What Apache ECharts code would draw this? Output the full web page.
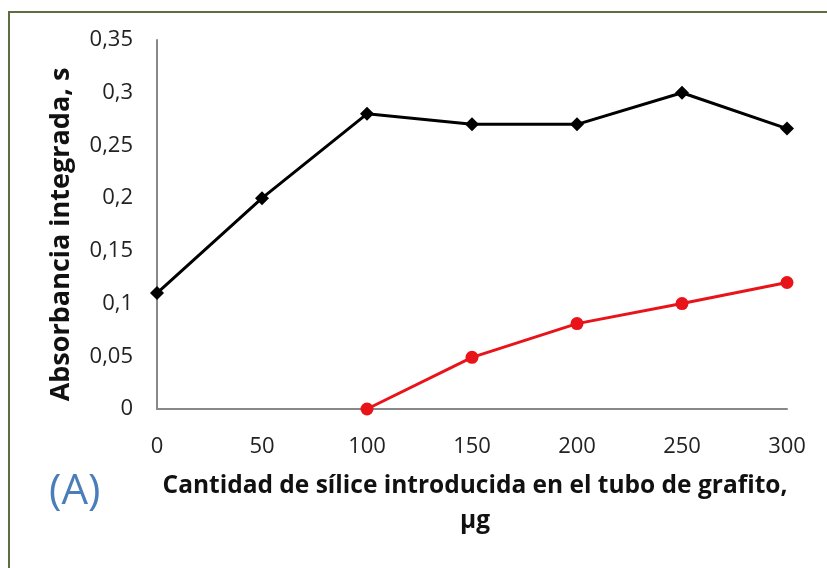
<!DOCTYPE html>
<html><head><meta charset="utf-8">
<script src="https://cdn.jsdelivr.net/npm/echarts@6/dist/echarts.min.js"></script>
<style>html,body{margin:0;padding:0;background:#fff}#c{width:827px;height:568px}</style>
</head><body><div id="c"></div>
<script>
var xTicks = [0, 50, 100, 150, 200, 250, 300];
var blackX = [0, 50, 100, 150, 200, 250, 300];
var blackY = [0.110, 0.200, 0.280, 0.270, 0.270, 0.300, 0.266];
var redX = [100, 150, 200, 250, 300];
var redY = [0.000, 0.049, 0.081, 0.100, 0.120];

var chart = echarts.init(document.getElementById('c'));
var font = '"Open Sans", "Noto Sans", sans-serif';
chart.setOption({
  animation: false,
  backgroundColor: '#fff',
  grid: {left: 157, right: 40, top: 40, bottom: 159},
  xAxis: {
    type: 'value', min: 0, max: 300, interval: 50,
    axisLine: {lineStyle: {color: '#888', width: 2}},
    axisTick: {show: false}, splitLine: {show: false},
    axisLabel: {color: '#222', fontSize: 22, fontFamily: font, margin: 27,
      formatter: function(v){ return xTicks.indexOf(v) >= 0 ? String(v) : ''; }},
    name: 'Cantidad de sílice introducida en el tubo de grafito,\nµg',
    nameLocation: 'middle', nameGap: 60,
    nameTextStyle: {color: '#111', fontSize: 24.5, fontWeight: 'bold', fontFamily: font, lineHeight: 35, padding: [0,0,0,6]}
  },
  yAxis: {
    type: 'value', min: 0, max: 0.35, interval: 0.05,
    axisLine: {show: true, lineStyle: {color: '#888', width: 2}},
    axisTick: {show: false}, splitLine: {show: false},
    axisLabel: {color: '#222', fontSize: 22, fontFamily: font, margin: 24,
      formatter: function(v){ return String(parseFloat(v.toFixed(2))).replace('.', ','); }},
    name: 'Absorbancia integrada, s', nameLocation: 'middle', nameGap: 82,
    nameTextStyle: {color: '#111', fontSize: 27, fontWeight: 'bold', fontFamily: font, padding: [0,20,0,0]}
  },
  series: [
    {type: 'line', data: blackX.map(function(x,i){return [x, blackY[i]];}),
     symbol: 'diamond', symbolSize: 14, lineStyle: {color: '#000', width: 3},
     itemStyle: {color: '#000'}},
    {type: 'line', data: redX.map(function(x,i){return [x, redY[i]];}),
     symbol: 'circle', symbolSize: 13, lineStyle: {color: '#e8141a', width: 3},
     itemStyle: {color: '#e8141a'}}
  ],
  graphic: [
    {type: 'rect', shape: {x: 9, y: 12, width: 840, height: 600}, style: {fill: 'none', stroke: '#5e6e3e', lineWidth: 2}, z: 100},
    {type: 'text', left: 49, top: 471, style: {text: '(A)', fill: '#4a7ebb', fontSize: 42, fontFamily: font}}
  ]
});
</script></body></html>
